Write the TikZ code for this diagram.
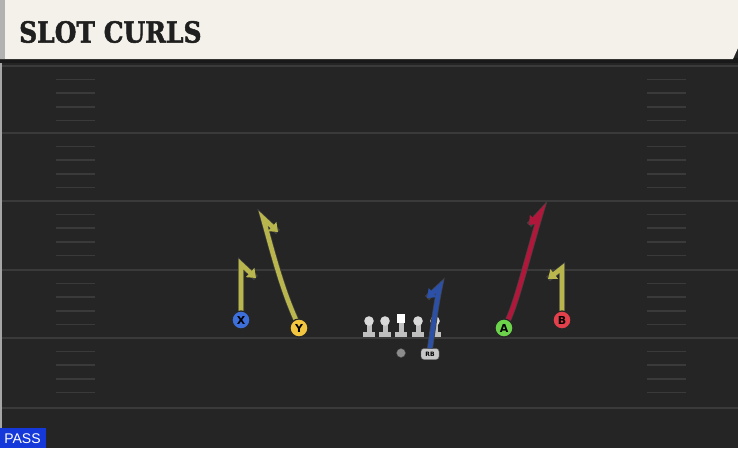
\documentclass[tikz,border=0pt]{standalone}
\usepackage{fontspec}
\setsansfont{DejaVu Sans}
\newfontfamily\titlefont{DejaVu Serif}[BoldFont={DejaVu Serif Bold},BoldFeatures={FakeBold=1.8}]
\newfontfamily\passfont{Liberation Sans}
\usetikzlibrary{arrows.meta}
\definecolor{turf}{HTML}{252525}
\definecolor{cream}{HTML}{F4F1EA}
\definecolor{yardgray}{HTML}{3A3A3A}
\definecolor{olive}{HTML}{B9B64E}
\definecolor{crimson}{HTML}{B0173A}
\definecolor{routeblue}{HTML}{2A52B0}
\definecolor{xblue}{HTML}{3D6FDB}
\definecolor{ygold}{HTML}{F3C63F}
\definecolor{agreen}{HTML}{6CD44A}
\definecolor{bred}{HTML}{E2404B}
\definecolor{passblue}{HTML}{1438DA}
\begin{document}
\begin{tikzpicture}[x=1pt,y=-1pt,
  player/.style={circle,draw=black!85,line width=1.2pt,minimum size=18pt,inner sep=0pt,
    font=\sffamily\bfseries\fontsize{11}{11}\selectfont},
  route/.style={line width=4.6pt,-{Triangle[width=12pt,length=8pt]},
    preaction={draw=black!75,line width=6pt,arrows=-}},
  yardline/.style={draw=yardgray,line width=2pt},
  hash/.style={draw=yardgray,line width=1.6pt}]
\useasboundingbox(0,0)rectangle(738,448);
\fill[turf](0,0)rectangle(738,448);
% field lines and hashes
\foreach \y in {66,133,201,270,338,408} \draw[yardline](0,\y)--(738,\y);
\foreach \y in {66,133,201,270,338}
  \foreach \k in {1,...,4}{
    \draw[hash](56,\y+13.6*\k)--(95,\y+13.6*\k);
    \draw[hash](647,\y+13.6*\k)--(686,\y+13.6*\k);
  }
\fill[black!35](0,63)rectangle(2,448);
% header
\fill[black!90](0,58)rectangle(738,63);
\fill[cream](0,0)--(738,0)--(738,48)--(733,59)--(0,59)--cycle;
\fill[black!30](0,0)rectangle(5,59);
\node[anchor=west,inner sep=0pt,text=black!88,font=\titlefont\bfseries\fontsize{29}{29}\selectfont]
  (title) at (19,32) {\scalebox{0.86}[1]{SLOT CURLS}};
% linemen
\foreach \x in {369,385,418,435}{
  \fill[black!25](\x-6,332)rectangle(\x+6,337);
  \fill[black!25](\x-2.5,322)rectangle(\x+2.5,333);
  \fill[black!15](\x,321)circle[radius=4.8];
}
\fill[black!25](395,332)rectangle(407,337);
\fill[black!25](398.5,320)rectangle(403.5,333);
\fill[white](397,314)rectangle(405,322.5);
% backs
\node[circle,fill=black!45,draw=black!70,minimum size=9pt,inner sep=0pt](QB) at (401,353){};
\node[rounded corners=3pt,fill=black!22,draw=black!60,minimum width=18pt,minimum height=11pt,inner sep=0pt,
  font=\sffamily\bfseries\fontsize{6}{6}\selectfont](RB) at (430,354){RB};
% routes
\coordinate(xtop) at (241,264);
\coordinate(ytop) at (263,218);
\coordinate(atop) at (541,212);
\coordinate(btop) at (562,268);
\coordinate(rbtop) at (440,286);
\draw[route,olive](241,320)--(xtop)--(256,278);
\draw[route,olive](297,322)..controls(282,290)and(272,250)..(ytop)--(278,232);
\draw[route,crimson](507,322)..controls(516,305)and(526,262)..(atop)--(529,225);
\draw[route,olive](562,320)--(btop)--(548,279);
\draw[route,routeblue,opacity=0.9](RB.north)..controls(434,320)and(437,300)..(rbtop)--(427,298);
% receivers
\node[player,fill=xblue](X) at (241,320){X};
\node[player,fill=ygold](Y) at (299,328){Y};
\node[player,fill=agreen](A) at (504,328){A};
\node[player,fill=bred](B) at (562,320){B};
% play type
\fill[passblue](0,428)rectangle(46,448);
\node[text=white,inner sep=0pt,font=\passfont\fontsize{14}{14}\selectfont](play) at (22.5,439){PASS};
\end{tikzpicture}
\end{document}
